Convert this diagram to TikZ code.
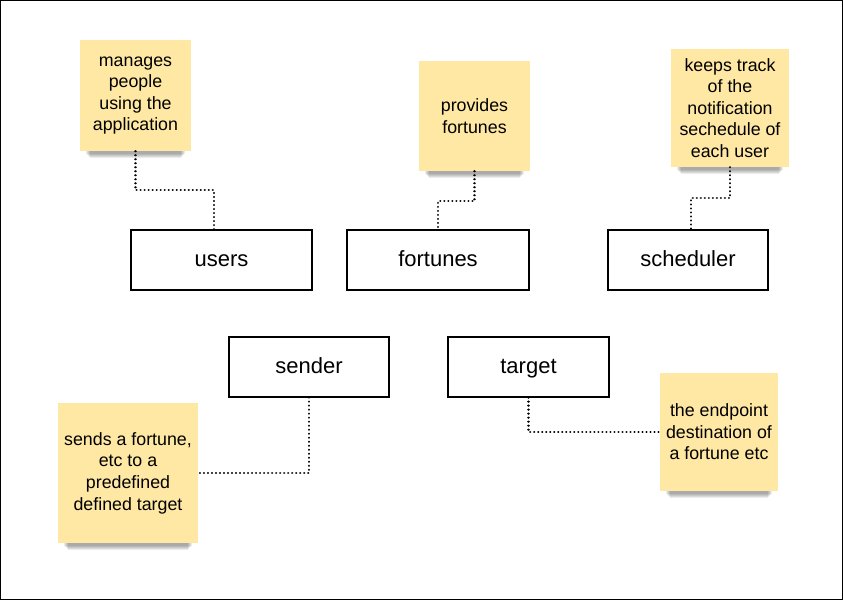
\documentclass[tikz,border=0pt]{standalone}
\usepackage{fontspec}
\setmainfont{Liberation Sans}
\definecolor{notefill}{HTML}{FEE8A4}
\begin{document}
\begin{tikzpicture}[x=1pt,y=-1pt,
  box/.style={draw=black,line width=1.2pt,fill=white,minimum height=60pt,inner sep=0pt,text height=15pt,text depth=2pt,font=\fontsize{22}{26}\selectfont},
  note/.style={fill=notefill,inner sep=0pt,align=center,font=\fontsize{17.8}{21.6}\selectfont},
  conn/.style={line width=2.3pt,line cap=round,dash pattern=on 0.01pt off 4pt}
]
\useasboundingbox (0,0) rectangle (843,600);
\draw[line width=1pt] (0.5,0.5) rectangle (842.5,599.5);
% shadows
\foreach \xa/\xb/\yb in {80/191/151, 419/530/171, 671/789/167, 58/198/543, 660/778/491}{
  \foreach \k in {1,...,5}{
    \fill[black,opacity=0.08] (\xa+5+\k,\yb-2) rectangle (\xb-5-\k,\yb+2+\k);
  }
}
% notes
\node[note,minimum width=111pt,minimum height=111pt] (n1) at (135.5,95.5) {manages\\people\\using the\\application};
\node[note,minimum width=111pt,minimum height=110pt] (n2) at (474.5,116) {provides\\fortunes};
\node[note,minimum width=118pt,minimum height=118pt] (n3) at (730,108) {keeps track\\of the\\notification\\sechedule of\\each user};
\node[note,minimum width=140pt,minimum height=140pt] (n4) at (128,473) {sends a fortune,\\etc to a\\predefined\\defined target};
\node[note,minimum width=118pt,minimum height=118pt] (n5) at (719,432) {the endpoint\\destination of\\a fortune etc};
% boxes
\node[box,minimum width=181pt] (users) at (221.5,260) {users};
\node[box,minimum width=182pt] (fortunes) at (438,260) {fortunes};
\node[box,minimum width=160pt] (sched) at (688,260) {scheduler};
\node[box,minimum width=160pt] (sender) at (309,367) {sender};
\node[box,minimum width=161pt] (target) at (528.5,367) {target};
% connectors
\draw[conn] (n1.south) -- ++(0,39) -| ([xshift=-7.5pt]users.north);
\draw[conn] (n2.south) -- ++(0,30) -| (fortunes.north);
\draw[conn] (n3.south) -- ++(0,31) -| ([xshift=3pt]sched.north);
\draw[conn] (sender.south) |- (n4.east);
\draw[conn] (target.south) |- (n5.west);
\end{tikzpicture}
\end{document}
